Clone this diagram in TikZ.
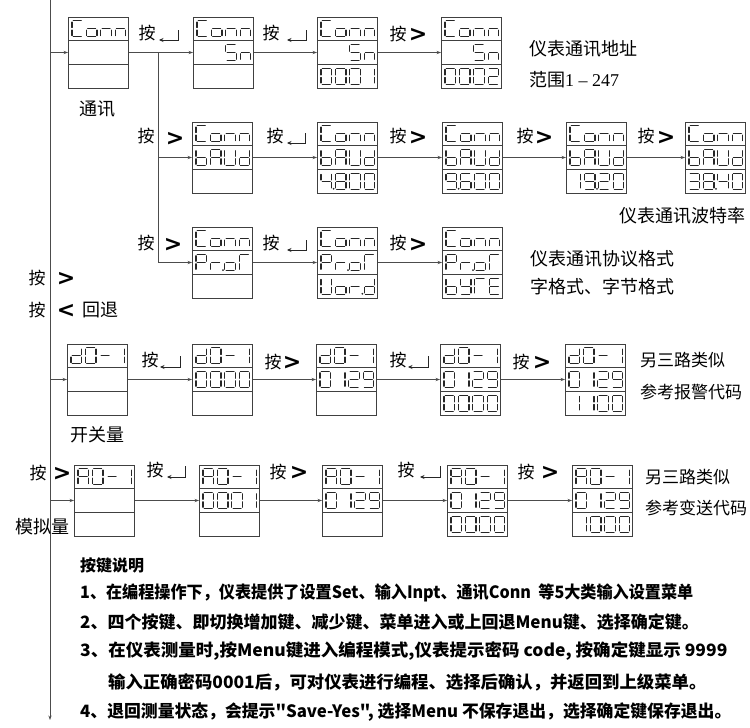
\documentclass[tikz,border=0pt]{standalone}
\usepackage{fontspec}
\setmainfont{Liberation Serif}
\newfontfamily\cjk{Noto Sans CJK SC}
\newfontfamily\gtf{DejaVu Sans}
\usetikzlibrary{arrows.meta}

\makeatletter
\newcount\dsp@slot
\def\defch#1#2{\expandafter\def\csname dc@#1\endcsname{#2}}
\defch{C}{a,d,e,f}\defch{o}{c,d,e,g}\defch{n}{c,e,g}\defch{S}{a,f,g,c,d}
\defch{b}{c,d,e,f,g}\defch{A}{a,b,c,e,f,g}\defch{U}{b,c,d,e,f}\defch{d}{b,c,d,e,g}
\defch{P}{a,b,e,f,g}\defch{r}{e,g}\defch{T}{a,e,f}\defch{y}{b,c,d,f,g}
\defch{E}{a,d,e,f,g}\defch{O}{a,b,c,d,e,f}\defch{-}{g}\defch{x}{z}
\defch{0}{a,b,c,d,e,f}\defch{1}{b,c}\defch{2}{a,b,g,e,d}\defch{3}{a,b,g,c,d}
\defch{4}{f,g,b,c}\defch{5}{a,f,g,c,d}\defch{6}{a,f,g,e,d,c}\defch{8}{a,b,c,d,e,f,g}
\defch{9}{a,b,c,d,f,g}
\def\sg@a{\draw[segl] (1.3,0) -- (9.2,0);}
\def\sg@b{\draw[segl] (10.5,1.3) -- (10.5,6.7);}
\def\sg@c{\draw[segl] (10.5,9.3) -- (10.5,14.7);}
\def\sg@d{\draw[segl] (1.3,16) -- (9.2,16);}
\def\sg@e{\draw[segl] (0,9.3) -- (0,14.7);}
\def\sg@f{\draw[segl] (0,1.3) -- (0,6.7);}
\def\sg@g{\draw[segl] (1.3,8) -- (9.2,8);}
\def\sg@z{}
\newcommand\dsp[3]{\pgfmathsetmacro\dsp@x{#1}\pgfmathsetmacro\dsp@y{#2}\global\dsp@slot=0 \dsp@parse#3\@nil}
\def\dsp@parse#1{\ifx#1\@nil\else\dsp@char#1\expandafter\dsp@parse\fi}
\def\dsp@char#1{\ifx#1.\dsp@dot\else\dsp@glyph{#1}\fi}
\def\dsp@dot{\fill[black!85] ({\dsp@x+(\the\dsp@slot-1)*14.4+12.6},{\dsp@y+15.6}) circle (1pt);}
\def\dsp@glyph#1{%
  \edef\dsp@segs{\csname dc@#1\endcsname}%
  \begin{scope}[shift={({\dsp@x+\the\dsp@slot*14.4},{\dsp@y})}]
    \foreach \s in \dsp@segs {\csname sg@\s\endcsname}
  \end{scope}%
  \global\advance\dsp@slot by 1 }
\makeatother

\newcommand\lcd[6]{%
  \node[lcdbox] (#1) at (#2,#3) {};
  \draw[boxl] ({#2},{#3+23.67}) -- ++(60.5,0);
  \draw[boxl] ({#2},{#3+47.33}) -- ++(60.5,0);
  \dsp{#2+4}{#3+3.8}{#4}\dsp{#2+4}{#3+27.5}{#5}\dsp{#2+4}{#3+51.2}{#6}}

% enter-key glyph: x of arrow tip, x of tick, y of horizontal, y of tick top
\newcommand\ekey[4]{\draw[ekl] (#2,#4) -- (#2,#3) -- (#1,#3);}

\tikzset{
  boxl/.style={draw=black!75, line width=0.8pt},
  lcdbox/.style={boxl, fill=white, anchor=north west, minimum width=60.5pt, minimum height=71pt, inner sep=0pt, outer sep=0pt},
  segl/.style={line width=1.2pt, draw=black!85, line cap=round},
  conn/.style={draw=black!70, line width=0.6pt, -{Stealth[length=4.5pt,width=3.2pt]}},
  plain/.style={draw=black!70, line width=0.6pt},
  ekl/.style={draw=black!85, line width=0.7pt, -{Stealth[length=4.5pt,width=4pt]}},
  lbl/.style={inner sep=0pt, font=\cjk\fontsize{17}{17}\selectfont},
  gt/.style={inner sep=0pt, font=\gtf\bfseries\fontsize{22}{22}\selectfont},
  desc/.style={inner sep=0pt, anchor=west, font=\cjk\fontsize{18}{18}\selectfont},
  descs/.style={desc, font=\cjk\fontsize{17}{17}\selectfont},
  note/.style={inner sep=0pt, anchor=west, font=\cjk\bfseries\fontsize{17}{17}\selectfont},
}

\begin{document}
\begin{tikzpicture}[x=1pt,y=-1pt]
\useasboundingbox[fill=white] (0,0) rectangle (750,728);
\coordinate (vtop) at (50,0);
\coordinate (vbot) at (50,720);
\coordinate (br) at (158,0);
\draw[conn] (vtop) -- (vbot);

% row 1
\lcd{r1a}{68}{17}{Conn}{x}{x}
\lcd{r1b}{193}{17}{Conn}{xxSn}{x}
\lcd{r1c}{317}{17}{Conn}{xxSn}{0001}
\lcd{r1d}{441}{17}{Conn}{xxSn}{0002}
% row 2
\lcd{r2a}{192}{122}{Conn}{bAUd}{x}
\lcd{r2b}{317}{122}{Conn}{bAUd}{4.800}
\lcd{r2c}{442}{122}{Conn}{bAUd}{9.600}
\lcd{r2d}{566}{122}{Conn}{bAUd}{19.20}
\lcd{r2e}{685}{122}{Conn}{bAUd}{38.40}
% row 3
\lcd{r3a}{192}{227}{Conn}{Pr.oT}{x}
\lcd{r3b}{317}{227}{Conn}{Pr.oT}{Uor.d}
\lcd{r3c}{442}{227}{Conn}{Pr.oT}{byTE}
% row 4
\lcd{r4a}{67}{344}{dO-1}{x}{x}
\lcd{r4b}{192}{344}{dO-1}{0000}{x}
\lcd{r4c}{316}{344}{dO-1}{0129}{x}
\lcd{r4d}{440}{344}{dO-1}{0129}{0000}
\lcd{r4e}{565}{344}{dO-1}{0129}{1100}
% row 5
\lcd{r5a}{74}{465}{AO-1}{x}{x}
\lcd{r5b}{199}{465}{AO-1}{0001}{x}
\lcd{r5c}{322}{465}{AO-1}{0129}{x}
\lcd{r5d}{447}{465}{AO-1}{0129}{0000}
\lcd{r5e}{572}{465}{AO-1}{0129}{1000}

% connectors
\draw[conn] (r1a.west -| vtop) -- (r1a.west);
\draw[conn] (r1a) -- (r1b); \draw[conn] (r1b) -- (r1c); \draw[conn] (r1c) -- (r1d);
\draw[plain] (br |- r1a.east) -- (br |- r3a.west);
\draw[conn] (br |- r2a.west) -- (r2a.west);
\draw[conn] (br |- r3a.west) -- (r3a.west);
\draw[conn] (r2a) -- (r2b); \draw[conn] (r2b) -- (r2c); \draw[conn] (r2c) -- (r2d); \draw[conn] (r2d) -- (r2e);
\draw[conn] (r3a) -- (r3b); \draw[conn] (r3b) -- (r3c);
\draw[conn] (r4a.west -| vtop) -- (r4a.west);
\draw[conn] (r4a) -- (r4b); \draw[conn] (r4b) -- (r4c); \draw[conn] (r4c) -- (r4d); \draw[conn] (r4d) -- (r4e);
\draw[conn] (r5a.west -| vtop) -- (r5a.west);
\draw[conn] (r5a) -- (r5b); \draw[conn] (r5b) -- (r5c); \draw[conn] (r5c) -- (r5d); \draw[conn] (r5d) -- (r5e);

% row 1 labels
\node[lbl] (k11) at (147,33) {按}; \ekey{159}{178}{40}{30}
\node[lbl] (k12) at (271,33) {按}; \ekey{287}{306}{40}{30}
\node[lbl] (k13) at (398,34) {按}; \node[gt] (g13) at (418,35) {>};
\node[desc] (t11) at (529,49) {仪表通讯地址};
\node[desc] (t12) at (529,80) {{\cjk 范围}{\rmfamily 1 – 247}};
\node[lbl,font=\cjk\fontsize{18}{18}\selectfont] (t13) at (97,109) {通讯};

% row 2 labels
\node[lbl] (k21) at (146,136) {按}; \node[gt] (g21) at (175,139) {>};
\node[lbl] (k22) at (275,136) {按}; \ekey{287}{305}{143}{133}
\node[lbl] (k23) at (398,136) {按}; \node[gt] (g23) at (418,138) {>};
\node[lbl] (k24) at (525,136) {按}; \node[gt] (g24) at (544,138) {>};
\node[lbl] (k25) at (646,136) {按}; \node[gt] (g25) at (666,138) {>};
\node[desc,anchor=east] (t21) at (746,216) {仪表通讯波特率};

% row 3 labels
\node[lbl] (k31) at (146,243) {按}; \node[gt] (g31) at (173,245) {>};
\node[lbl] (k32) at (271,243) {按}; \ekey{287}{306}{250}{240}
\node[lbl] (k33) at (398,243) {按}; \node[gt] (g33) at (418,245) {>};
\node[desc] (t31) at (530,259) {仪表通讯协议格式};
\node[desc] (t32) at (530,287) {字格式、字节格式};

% left labels
\node[lbl] (kl1) at (37,278) {按}; \node[gt] (gl1) at (66,279) {>};
\node[lbl] (kl2) at (37,310) {按}; \node[gt] (gl2) at (66,311) {<};
\node[desc] (tl2) at (82,310) {回退};

% row 4 labels
\node[lbl] (k41) at (150,360) {按}; \ekey{160}{180}{367}{356}
\node[lbl] (k42) at (273,362) {按}; \node[gt] (g42) at (292,363) {>};
\node[lbl] (k43) at (398,360) {按}; \ekey{408}{428}{367}{356}
\node[lbl] (k44) at (521,362) {按}; \node[gt] (g44) at (542,363) {>};
\node[descs] (t41) at (640,360) {另三路类似};
\node[descs] (t42) at (640,392) {参考报警代码};
\node[lbl,font=\cjk\fontsize{18}{18}\selectfont] (t43) at (97,435) {开关量};

% row 5 labels
\node[lbl] (kl3) at (38,473) {按}; \node[gt] (gl3) at (62,474) {>};
\node[lbl,font=\cjk\fontsize{18}{18}\selectfont] (t53) at (42,527) {模拟量};
\node[lbl] (k51) at (155,470) {按}; \ekey{167}{185}{477}{466}
\node[lbl] (k52) at (278,472) {按}; \node[gt] (g52) at (299,473) {>};
\node[lbl] (k53) at (406,470) {按}; \ekey{420}{440}{477}{466}
\node[lbl] (k54) at (526,472) {按}; \node[gt] (g54) at (550,473) {>};
\node[descs] (t51) at (645,477) {另三路类似};
\node[descs] (t52) at (645,508) {参考变送代码};

% notes
\node[note,font=\cjk\bfseries\fontsize{16}{16}\selectfont] (n0) at (80,565) {按键说明};
\node[note] (n1) at (80,593) {\scalebox{0.948}[1]{1、在编程操作下，仪表提供了设置Set、输入Inpt、通讯Conn\ \ 等5大类输入设置菜单}};
\node[note] (n2) at (80,622) {2、四个按键、即切换增加键、减少键、菜单进入或上回退Menu键、选择确定键。};
\node[note] (n3) at (80,651) {\scalebox{1.03}[1]{3、在仪表测量时,按Menu键进入编程模式,仪表提示密码 code, 按确定键显示 9999}};
\node[note] (n4) at (108,682) {\scalebox{1.022}[1]{输入正确密码0001后，可对仪表进行编程、选择后确认，并返回到上级菜单。}};
\node[note] (n5) at (80,712) {\scalebox{0.99}[1]{4、退回测量状态，会提示"Save-Yes", 选择Menu 不保存退出，选择确定键保存退出。}};
\end{tikzpicture}
\end{document}
